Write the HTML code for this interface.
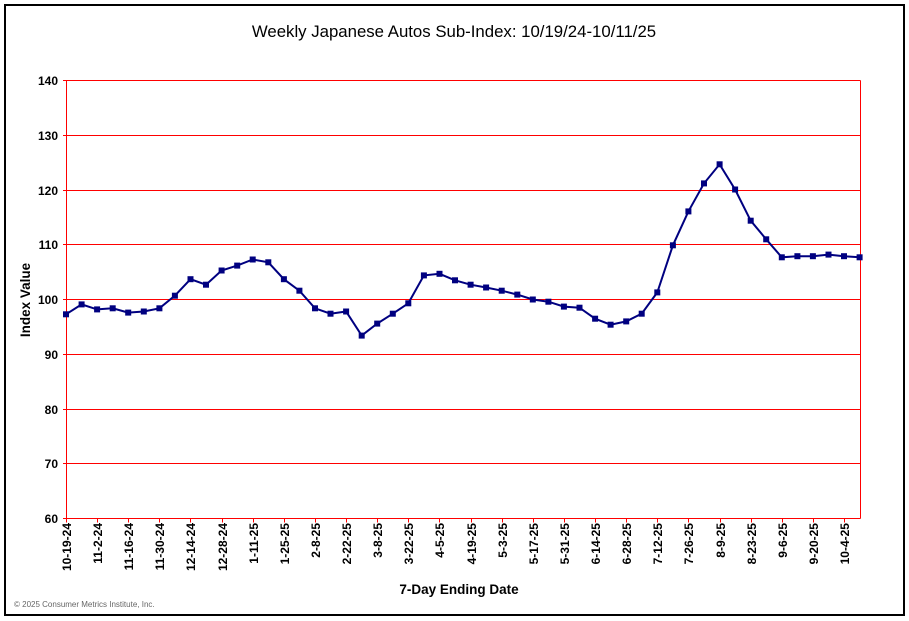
<!DOCTYPE html>
<html><head><meta charset="utf-8"><style>
html,body{margin:0;padding:0;background:#fff;}
svg{display:block;}
text{font-family:"Liberation Sans",Arial,sans-serif;}
</style></head><body>
<svg width="909" height="621" viewBox="0 0 909 621" xmlns="http://www.w3.org/2000/svg">
<rect x="5" y="5" width="899" height="610" fill="#fff" stroke="#000" stroke-width="2"/>
<text x="454" y="37" font-size="16.8" text-anchor="middle">Weekly Japanese Autos Sub-Index: 10/19/24-10/11/25</text>
<g id="grid" stroke="#ff0000" stroke-width="1"></g>
<g id="ylab" font-size="12" font-weight="bold" text-anchor="end"></g>
<g id="xlab" font-size="12" font-weight="bold"></g>
<text transform="translate(30,300) rotate(-90)" font-size="13.5" font-weight="bold" text-anchor="middle">Index Value</text>
<text x="459" y="594" font-size="13.5" font-weight="bold" text-anchor="middle">7-Day Ending Date</text>
<text x="14" y="607" font-size="8" fill="#666">© 2025 Consumer Metrics Institute, Inc.</text>
<g id="series"></g>
</svg>
<script>
var ns="http://www.w3.org/2000/svg";
function el(p,t,a,txt){var e=document.createElementNS(ns,t);for(var k in a)e.setAttribute(k,a[k]);if(txt!=null)e.textContent=txt;document.getElementById(p).appendChild(e);return e;}
var L=66.5,R=860.5,T=80.5,B=518.5;
for(var v=60;v<=140;v+=10){var y=B-(v-60)/80*(B-T);y=Math.round(y-0.5)+0.5;
 el("grid","line",{x1:63,x2:R,y1:y,y2:y});
 el("ylab","text",{x:58,y:y+4.5},String(v));}
el("grid","line",{x1:L,x2:L,y1:T,y2:B+4});
el("grid","line",{x1:R,x2:R,y1:T,y2:B});
var d=[97.3,99.1,98.2,98.4,97.6,97.8,98.4,100.7,103.7,102.7,105.3,106.2,107.3,106.8,103.7,101.6,98.4,97.4,97.8,93.4,95.6,97.4,99.3,104.4,104.7,103.5,102.7,102.2,101.6,100.9,100,99.6,98.7,98.5,96.5,95.4,96,97.4,101.3,109.9,116.1,121.2,124.7,120.1,114.4,111,107.7,107.9,107.9,108.2,107.9,107.7];
var labs=["10-19-24","11-2-24","11-16-24","11-30-24","12-14-24","12-28-24","1-11-25","1-25-25","2-8-25","2-22-25","3-8-25","3-22-25","4-5-25","4-19-25","5-3-25","5-17-25","5-31-25","6-14-25","6-28-25","7-12-25","7-26-25","8-9-25","8-23-25","9-6-25","9-20-25","10-4-25"];
var dx=(859.6-66)/51;
for(var i=0;i<labs.length;i++){var x=Math.round(66+2*i*dx)+0.5;
 el("grid","line",{x1:x,x2:x,y1:B,y2:B+4});
 el("xlab","text",{transform:"translate("+(x+4.5)+",523) rotate(-90)","text-anchor":"end"},labs[i]);}
var pts=d.map(function(v,i){return [66+i*dx,B-(v-60)/80*(B-T)];});
el("series","polyline",{points:pts.map(function(p){return p[0].toFixed(1)+","+p[1].toFixed(1)}).join(" "),fill:"none",stroke:"#000080","stroke-width":2});
pts.forEach(function(p){el("series","rect",{x:(p[0]-3).toFixed(1),y:(p[1]-3).toFixed(1),width:6,height:6,fill:"#000080"});});
</script>
</body></html>
